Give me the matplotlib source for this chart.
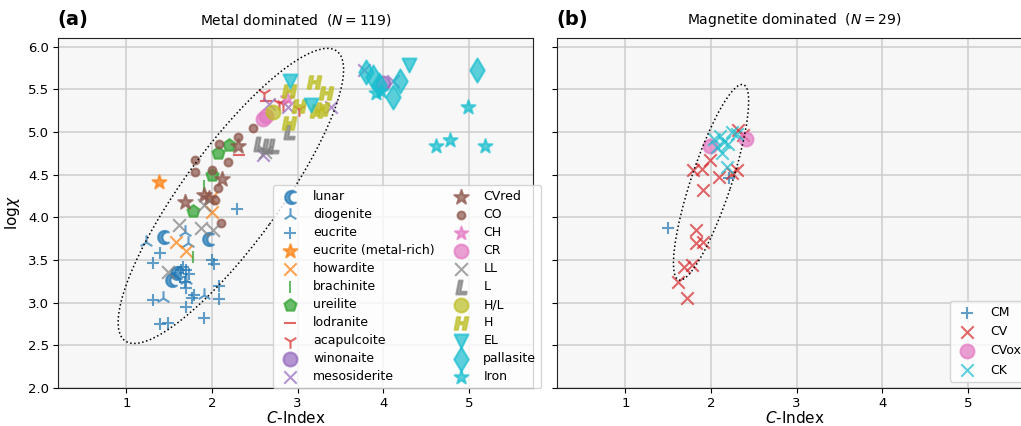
import numpy as np
import matplotlib
matplotlib.use('Agg')
import matplotlib.pyplot as plt
from matplotlib.path import Path
from matplotlib.textpath import TextPath
from matplotlib.font_manager import FontProperties
from matplotlib.patches import Ellipse

# ---- panel (a): metal dominated ----
lunar_x = [1.43, 1.95, 1.52, 1.58]
lunar_y = [3.77, 3.75, 3.26, 3.35]
diogenite_x = [1.23, 1.68, 1.72, 1.43, 1.91, 1.70]
diogenite_y = [3.71, 3.83, 3.70, 3.05, 3.09, 3.26]
eucrite_x = [2.29, 1.39, 1.31, 2.00, 2.02, 1.64, 1.70, 1.62, 1.68, 1.73, 1.70, 1.79,
             2.08, 2.08, 1.31, 1.70, 1.91, 1.39, 1.49, 1.76, 1.66, 1.60]
eucrite_y = [4.10, 3.58, 3.46, 3.50, 3.45, 3.38, 3.38, 3.30, 3.24, 3.33, 3.17, 3.09,
             3.19, 3.04, 3.03, 2.95, 2.82, 2.75, 2.76, 3.06, 3.42, 3.35]
eucrite_mr_x = [1.38]
eucrite_mr_y = [4.41]
howardite_x = [1.58, 1.70, 1.99, 2.00]
howardite_y = [3.71, 3.61, 4.23, 4.06]
brachinite_x = [1.91, 1.78]
brachinite_y = [4.37, 3.53]
ureilite_x = [2.20, 2.07, 2.00, 1.78]
ureilite_y = [4.85, 4.75, 4.49, 4.07]
lodranite_x = [2.32, 2.63]
lodranite_y = [4.73, 5.36]
acapulcoite_x = [2.61, 2.78, 2.83, 3.02]
acapulcoite_y = [5.45, 5.34, 5.33, 5.27]
winonaite_x = [4.00]
winonaite_y = [5.57]
mesosiderite_x = [2.60, 2.67, 2.89, 3.39, 3.77, 4.11]
mesosiderite_y = [4.73, 5.33, 5.29, 5.29, 5.72, 5.60]
cvred_x = [1.68, 1.91, 2.12, 2.30, 1.97]
cvred_y = [4.18, 4.26, 4.45, 4.84, 4.22]
co_x = [2.48, 2.30, 2.08, 2.19, 1.80, 1.80, 2.00, 2.07, 2.03, 2.10]
co_y = [5.04, 4.94, 4.86, 4.65, 4.67, 4.53, 4.55, 4.34, 4.20, 3.93]
ch_x = [2.88]
ch_y = [5.40]
cr_x = [2.60, 2.63]
cr_y = [5.15, 5.19]
ll_x = [1.61, 1.87, 1.49, 1.91, 2.01, 2.62]
ll_y = [3.91, 3.87, 3.36, 4.14, 3.85, 4.76]
l_x = [2.55, 2.64, 2.71, 2.90]
l_y = [4.86, 4.83, 4.83, 5.00]
hl_x = [2.71]
hl_y = [5.23]
h_x = [2.90, 3.02, 2.90, 3.19, 3.33, 3.28, 3.23]
h_y = [5.48, 5.30, 5.11, 5.58, 5.45, 5.27, 5.25]
el_x = [2.91, 3.16, 4.30]
el_y = [5.60, 5.31, 5.78]
pallasite_x = [3.80, 3.88, 4.20, 4.11, 5.10, 3.95]
pallasite_y = [5.70, 5.64, 5.60, 5.41, 5.72, 5.55]
iron_x = [3.91, 4.99, 4.78, 4.62, 5.19, 3.97]
iron_y = [5.46, 5.29, 4.91, 4.83, 4.83, 5.48]

# ---- panel (b): magnetite dominated ----
cm_x = [1.50, 2.21]
cm_y = [3.87, 4.46]
cv_x = [2.32, 2.37, 1.99, 1.90, 1.79, 2.09, 2.30, 2.25, 1.91, 1.82, 1.82, 1.91, 1.68, 1.78, 1.61, 1.72]
cv_y = [5.02, 4.96, 4.67, 4.57, 4.55, 4.47, 4.55, 4.52, 4.32, 3.85, 3.70, 3.71, 3.42, 3.44, 3.24, 3.06]
cvox_x = [1.99, 2.41]
cvox_y = [4.84, 4.92]
ck_x = [2.10, 2.24, 2.30, 2.15, 2.07, 2.13, 2.19, 2.04, 2.20]
ck_y = [4.95, 5.00, 4.97, 4.88, 4.82, 4.75, 4.59, 4.92, 4.86]


def crescent():
    t1 = np.linspace(np.radians(51.3), np.radians(308.7), 40)
    outer = np.column_stack([np.cos(t1), np.sin(t1)])
    t2 = np.linspace(np.radians(-77.4), np.radians(-282.6), 40)
    inner = np.column_stack([0.45 + 0.8 * np.cos(t2), 0.8 * np.sin(t2)])
    v = np.vstack([outer, inner, outer[:1]])
    v[:, 0] += 0.19
    codes = [Path.MOVETO] + [Path.LINETO] * (len(v) - 2) + [Path.CLOSEPOLY]
    return Path(v, codes)


def letter(ch):
    fp = FontProperties(family='DejaVu Sans', weight='bold', style='italic')
    tp = TextPath((0, 0), ch, size=1, prop=fp)
    ext = tp.get_extents()
    v = tp.vertices.copy()
    v[:, 0] -= (ext.x0 + ext.x1) / 2
    v[:, 1] -= (ext.y0 + ext.y1) / 2
    return Path(v, tp.codes)


C = {'blue': 'tab:blue', 'orange': 'tab:orange', 'green': 'tab:green', 'red': 'tab:red',
     'purple': 'tab:purple', 'brown': 'tab:brown', 'pink': 'tab:pink', 'gray': 'tab:gray',
     'olive': 'tab:olive', 'cyan': 'tab:cyan'}

groups_a = [
    ('lunar', lunar_x, lunar_y, crescent(), 'blue', 90),
    ('diogenite', diogenite_x, diogenite_y, '2', 'blue', 110),
    ('eucrite', eucrite_x, eucrite_y, '+', 'blue', 85),
    ('eucrite (metal-rich)', eucrite_mr_x, eucrite_mr_y, '*', 'orange', 110),
    ('howardite', howardite_x, howardite_y, 'x', 'orange', 80),
    ('brachinite', brachinite_x, brachinite_y, '|', 'green', 85),
    ('ureilite', ureilite_x, ureilite_y, 'p', 'green', 85),
    ('lodranite', lodranite_x, lodranite_y, '_', 'red', 85),
    ('acapulcoite', acapulcoite_x, acapulcoite_y, '1', 'red', 110),
    ('winonaite', winonaite_x, winonaite_y, 'o', 'purple', 100),
    ('mesosiderite', mesosiderite_x, mesosiderite_y, 'x', 'purple', 80),
    ('CVred', cvred_x, cvred_y, '*', 'brown', 120),
    ('CO', co_x, co_y, 'o', 'brown', 32),
    ('CH', ch_x, ch_y, '*', 'pink', 100),
    ('CR', cr_x, cr_y, 'o', 'pink', 100),
    ('LL', ll_x, ll_y, 'x', 'gray', 85),
    ('L', l_x, l_y, letter('L'), 'gray', 100),
    ('H/L', hl_x, hl_y, 'o', 'olive', 100),
    ('H', h_x, h_y, letter('H'), 'olive', 110),
    ('EL', el_x, el_y, 'v', 'cyan', 100),
    ('pallasite', pallasite_x, pallasite_y, 'd', 'cyan', 150),
    ('Iron', iron_x, iron_y, '*', 'cyan', 110),
]

groups_b = [
    ('CM', cm_x, cm_y, '+', 'blue', 85),
    ('CV', cv_x, cv_y, 'x', 'red', 80),
    ('CVox', cvox_x, cvox_y, 'o', 'pink', 100),
    ('CK', ck_x, ck_y, 'x', 'cyan', 80),
]

plt.rcParams['font.family'] = ['DejaVu Sans']
fig = plt.figure(figsize=(10.21, 4.26), dpi=100)
axa = fig.add_axes([58 / 1021, 38 / 426, 475 / 1021, 350 / 426])
axb = fig.add_axes([557 / 1021, 38 / 426, 475 / 1021, 350 / 426])

for ax, groups in [(axa, groups_a), (axb, groups_b)]:
    ax.set_facecolor('#f7f7f7')
    ax.grid(True, color='#cccccc', lw=1.1)
    ax.set_axisbelow(True)
    for name, xs, ys, mk, col, s in groups:
        ax.scatter(xs, ys, marker=mk, s=s, color=C[col], alpha=0.7, lw=1.5, label=name)
    ax.set_xlim(0.2, 5.75)
    ax.set_ylim(2.0, 6.1)
    ax.set_xticks([1, 2, 3, 4, 5])
    ax.set_yticks(np.arange(2.0, 6.01, 0.5))
    ax.tick_params(labelsize=9.5, length=3.5, pad=3)
    ax.set_xlabel(r'$C$-Index', fontsize=11, labelpad=0)
    for sp in ax.spines.values():
        sp.set_color('#222222')

axb.set_yticklabels([])
axa.set_ylabel(r'log$\chi$', fontsize=11)

axa.add_patch(Ellipse((2.22, 4.25), width=4.2, height=1.12, angle=53.9,
                      fill=False, ls=':', lw=1.1, color='k'))
axb.add_patch(Ellipse((2.0, 4.41), width=2.41, height=0.47, angle=71.7,
                      fill=False, ls=':', lw=1.1, color='k'))

axa.set_title(r'Metal dominated  ($N = 119$)', fontsize=10, pad=10)
axb.set_title(r'Magnetite dominated  ($N = 29$)', fontsize=10, pad=10)
fig.text(57 / 1021, 1 - 20 / 426, '(a)', fontsize=14, fontweight='bold', va='center')
fig.text(556 / 1021, 1 - 20 / 426, '(b)', fontsize=14, fontweight='bold', va='center')

axa.legend(ncol=2, loc='upper left', bbox_to_anchor=(0.4526, 0.58), borderaxespad=0,
           fontsize=9, framealpha=0.8, columnspacing=1.1, handletextpad=0.8,
           labelspacing=0.4)
axb.legend(loc='lower right', fontsize=9, framealpha=0.8)

fig.savefig('out.png', dpi=100)
